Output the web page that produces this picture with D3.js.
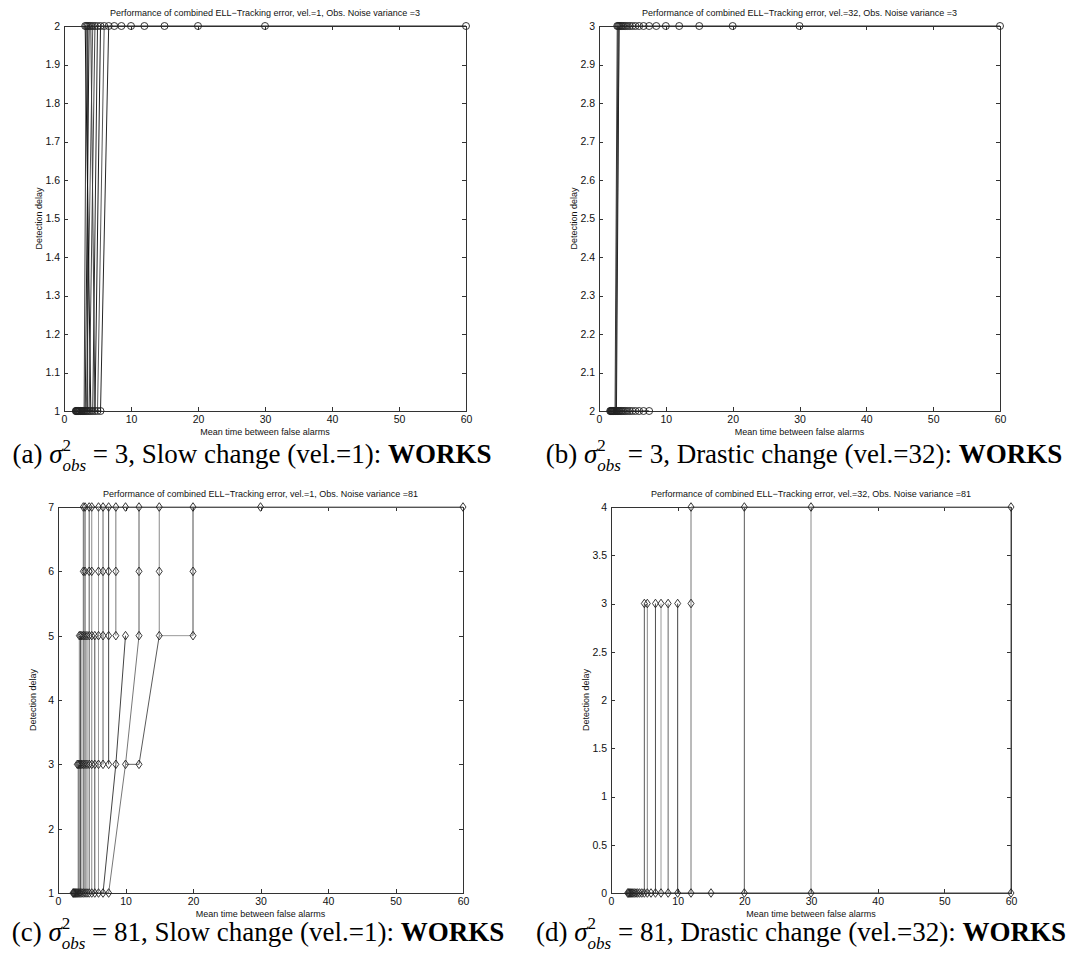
<!DOCTYPE html>
<meta charset="utf-8">
<style>
body { margin: 0; background: #fff; }
svg { display: block; background: #fff; }
.axis path, .axis line { stroke: #333; shape-rendering: crispEdges; }
.axis text { font-family: "Liberation Sans", Arial, sans-serif; font-size: 10.5px; fill: #111; }
.title, .xlabel, .ylabel { font-family: "Liberation Sans", Arial, sans-serif; font-size: 9px; fill: #111; }
.caption { font-family: "Liberation Serif", "Times New Roman", serif; font-size: 27px; fill: #000; }
.line { fill: none; stroke-width: 1px; }
.mark { fill: none; stroke: #222; stroke-width: 0.9px; }
</style>
<svg width="1070" height="965"></svg>
<script src="https://d3js.org/d3.v7.min.js"></script>
<script>
var xTicks = [0, 10, 20, 30, 40, 50, 60];

// (a) vel.=1, noise 3 : delay 1 -> 2
var aYTicks = [1, 1.1, 1.2, 1.3, 1.4, 1.5, 1.6, 1.7, 1.8, 1.9, 2];
var aMarks = [
  [1, [1.76, 1.82, 1.88, 1.94, 2.0, 2.07, 2.14, 2.22, 2.31, 2.4, 2.5, 2.61, 2.73, 2.86, 3.0, 3.16, 3.33, 3.53, 3.75, 4.0, 4.29, 4.62, 5.0, 5.45]],
  [2, [3.16, 3.33, 3.53, 3.75, 4.0, 4.29, 4.62, 5.0, 5.45, 6.0, 6.67, 7.5, 8.57, 10, 12, 15, 20, 30, 60]]
];
var aLines = [
  [[1.76, 1], [5.45, 1]],
  [[3.16, 2], [60, 2]],
  [[3.0, 1], [3.33, 2]],
  [[3.16, 1], [3.75, 2]],
  [[3.33, 1], [4.29, 2]],
  [[3.53, 1], [3.53, 2]],
  [[3.75, 1], [4.62, 2]],
  [[4.0, 1], [3.16, 2]],
  [[4.29, 1], [5.0, 2]],
  [[4.62, 1], [4.0, 2]],
  [[4.62, 1], [5.45, 2]],
  [[5.0, 1], [6.0, 2]],
  [[5.45, 1], [6.67, 2]]
];

// (b) vel.=32, noise 3 : delay 2 -> 3
var bYTicks = [2, 2.1, 2.2, 2.3, 2.4, 2.5, 2.6, 2.7, 2.8, 2.9, 3];
var bMarks = [
  [2, [1.67, 1.76, 1.82, 1.88, 1.94, 2.0, 2.07, 2.14, 2.22, 2.31, 2.4, 2.5, 2.61, 2.73, 2.86, 3.0, 3.16, 3.33, 3.53, 3.75, 4.0, 4.29, 4.62, 5.0, 5.45, 6.0, 6.67, 7.5]],
  [3, [2.73, 2.86, 3.0, 3.16, 3.33, 3.53, 3.75, 4.0, 4.29, 4.62, 5.0, 5.45, 6.0, 6.67, 7.5, 8.57, 10, 12, 15, 20, 30, 60]]
];
var bLines = [
  [[1.67, 2], [7.5, 2]],
  [[2.73, 3], [60, 3]],
  [[2.4, 2], [2.73, 3]],
  [[2.5, 2], [2.86, 3]],
  [[2.5, 2], [3.0, 3]],
  [[2.61, 2], [3.0, 3]]
];

// (c) vel.=1, noise 81
var cYTicks = [1, 2, 3, 4, 5, 6, 7];
var cMarks = [
  [1, [2.22, 2.31, 2.4, 2.5, 2.61, 2.73, 2.86, 3.0, 3.16, 3.33, 3.53, 3.75, 4.0, 4.29, 4.62, 5.0, 5.45, 6.0, 6.67, 7.5]],
  [3, [2.86, 3.0, 3.16, 3.33, 3.53, 3.75, 4.0, 4.29, 4.62, 5.0, 5.45, 6.0, 6.67, 7.5, 8.57, 10, 12]],
  [5, [3.16, 3.33, 3.53, 3.75, 4.0, 4.29, 4.62, 5.0, 5.45, 6.0, 6.67, 7.5, 8.57, 10, 12, 15, 20]],
  [6, [3.75, 4.0, 4.62, 5.0, 6.0, 6.67, 7.5, 8.57, 12, 15, 20]],
  [7, [3.75, 4.0, 4.62, 5.0, 6.0, 6.67, 7.5, 8.57, 10, 12, 15, 20, 30, 60]]
];
var cLines = [
  [[2.22, 1], [7.5, 1]],
  [[3.75, 7], [60, 7]],
  [[3.0, 1], [3.0, 3]],
  [[3.16, 1], [3.16, 5]],
  [[3.33, 1], [3.33, 5]],
  [[3.53, 1], [3.53, 5]],
  [[3.75, 1], [3.75, 7]],
  [[4.0, 1], [4.0, 7]],
  [[4.29, 1], [4.29, 5]],
  [[4.62, 1], [4.62, 7]],
  [[5.0, 1], [5.0, 7]],
  [[5.45, 1], [5.45, 5]],
  [[6.0, 1], [6.0, 7]],
  [[6.67, 3], [6.67, 7]],
  [[7.5, 3], [7.5, 7]],
  [[8.57, 5], [8.57, 7]],
  [[12, 5], [12, 7]],
  [[15, 5], [15, 7]],
  [[20, 5], [20, 7]],
  [[15, 5], [20, 5]],
  [[10, 3], [12, 3]],
  [[10, 5], [8.57, 3], [6.67, 1]],
  [[12, 5], [10, 3], [7.5, 1]],
  [[15, 5], [12, 3]]
];

// (d) vel.=32, noise 81
var dYTicks = [0, 0.5, 1, 1.5, 2, 2.5, 3, 3.5, 4];
var dMarks = [
  [0, [2.5, 2.61, 2.73, 2.86, 3.0, 3.16, 3.33, 3.53, 3.75, 4.0, 4.29, 4.62, 5.0, 5.45, 6.0, 6.67, 7.5, 8.57, 10, 12, 15, 20, 30, 60]],
  [3, [5.0, 5.45, 6.67, 7.5, 8.57, 10, 12]],
  [4, [12, 20, 30, 60]]
];
var dLines = [
  [[2.5, 0], [60, 0]],
  [[12, 4], [60, 4]],
  [[5.0, 0], [5.0, 3]],
  [[5.45, 0], [5.45, 3]],
  [[6.67, 0], [6.67, 3]],
  [[7.5, 0], [7.5, 3]],
  [[8.57, 0], [8.57, 3]],
  [[10, 0], [10, 3]],
  [[12, 0], [12, 4]],
  [[20, 0], [20, 4]],
  [[30, 0], [30, 4]],
  [[60, 0], [60, 4]]
];

var titles = [
  "Performance of combined ELL\u2212Tracking error, vel.=1, Obs. Noise variance =3",
  "Performance of combined ELL\u2212Tracking error, vel.=32, Obs. Noise variance =3",
  "Performance of combined ELL\u2212Tracking error, vel.=1, Obs. Noise variance =81",
  "Performance of combined ELL\u2212Tracking error, vel.=32, Obs. Noise variance =81"
];
var captions = [
  ["a", "3", "Slow change (vel.=1):"],
  ["b", "3", "Drastic change (vel.=32):"],
  ["c", "81", "Slow change (vel.=1):"],
  ["d", "81", "Drastic change (vel.=32):"]
];

var darkGrays = ["#111", "#2b2b2b", "#3c3c3c", "#1c1c1c", "#555", "#262626", "#444"],
    midGrays = ["#444", "#777", "#5a5a5a", "#8a8a8a", "#4f4f4f", "#9a9a9a", "#666"];

var panels = [
  {box: [64, 466, 26, 411], yTicks: aYTicks, marks: aMarks, lines: aLines, marker: "o", grays: darkGrays, cap: [252, 463]},
  {box: [599, 1000, 26, 411], yTicks: bYTicks, marks: bMarks, lines: bLines, marker: "o", grays: darkGrays, cap: [804, 463]},
  {box: [58, 463, 507, 893], yTicks: cYTicks, marks: cMarks, lines: cLines, marker: "d", grays: midGrays, cap: [258, 941]},
  {box: [611, 1011, 507, 893], yTicks: dYTicks, marks: dMarks, lines: dLines, marker: "d", grays: midGrays, cap: [801, 941]}
];

var svg = d3.select("svg");

panels.forEach(function(p, i) {
  var x = d3.scaleLinear().domain([0, 60]).range([p.box[0], p.box[1]]),
      y = d3.scaleLinear().domain(d3.extent(p.yTicks)).range([p.box[3], p.box[2]]),
      g = svg.append("g");

  g.append("g")
      .attr("class", "axis")
      .attr("transform", "translate(0," + p.box[3] + ")")
      .call(d3.axisBottom(x).tickValues(xTicks).tickSizeInner(-4).tickSizeOuter(0).tickPadding(5).tickFormat(d3.format("d")));
  g.append("g")
      .attr("class", "axis")
      .attr("transform", "translate(0," + p.box[2] + ")")
      .call(d3.axisTop(x).tickValues(xTicks).tickSizeInner(-4).tickSizeOuter(0).tickFormat(""));
  g.append("g")
      .attr("class", "axis")
      .attr("transform", "translate(" + p.box[0] + ",0)")
      .call(d3.axisLeft(y).tickValues(p.yTicks).tickSizeInner(-4).tickSizeOuter(0).tickPadding(4).tickFormat(d3.format("~g")));
  g.append("g")
      .attr("class", "axis")
      .attr("transform", "translate(" + p.box[1] + ",0)")
      .call(d3.axisRight(y).tickValues(p.yTicks).tickSizeInner(-4).tickSizeOuter(0).tickFormat(""));

  var line = d3.line()
      .x(function(d) { return x(d[0]); })
      .y(function(d) { return y(d[1]); });

  g.selectAll(".line")
    .data(p.lines)
    .enter().append("path")
      .attr("class", "line")
      .attr("stroke", function(d, j) { return p.grays[j % p.grays.length]; })
      .attr("d", line);

  var pts = [];
  p.marks.forEach(function(m) {
    m[1].forEach(function(v) { pts.push([v, m[0]]); });
  });

  if (p.marker === "o") {
    g.selectAll(".mark")
      .data(pts)
      .enter().append("circle")
        .attr("class", "mark")
        .attr("cx", function(d) { return x(d[0]); })
        .attr("cy", function(d) { return y(d[1]); })
        .attr("r", 3.5);
  } else {
    g.selectAll(".mark")
      .data(pts)
      .enter().append("path")
        .attr("class", "mark")
        .attr("transform", function(d) { return "translate(" + x(d[0]) + "," + y(d[1]) + ")"; })
        .attr("d", "M0,-4.3L3,0L0,4.3L-3,0Z");
  }

  g.append("text")
      .attr("class", "title")
      .attr("x", (p.box[0] + p.box[1]) / 2)
      .attr("y", p.box[2] - 10)
      .attr("text-anchor", "middle")
      .text(titles[i]);
  g.append("text")
      .attr("class", "xlabel")
      .attr("x", (p.box[0] + p.box[1]) / 2)
      .attr("y", p.box[3] + 24)
      .attr("text-anchor", "middle")
      .text("Mean time between false alarms");
  g.append("text")
      .attr("class", "ylabel")
      .attr("transform", "translate(" + (p.box[0] - 22) + "," + ((p.box[2] + p.box[3]) / 2) + ") rotate(-90)")
      .attr("text-anchor", "middle")
      .text("Detection delay");

  // caption: sigma with stacked superscript 2 and subscript obs
  var c = captions[i],
      t = svg.append("text").attr("class", "caption");
  t.append("tspan").text("(" + c[0] + ") ");
  t.append("tspan").style("font-style", "italic").text("\u03c3");
  var sup = t.append("tspan").attr("dy", -12).style("font-size", "17px").text("2");
  var w = sup.node().getComputedTextLength();
  t.append("tspan").attr("dx", -w).attr("dy", 20).style("font-size", "17px").style("font-style", "italic").text("obs");
  t.append("tspan").attr("dy", -8).text(" = " + c[1] + ", " + c[2] + " ");
  t.append("tspan").style("font-weight", "bold").text("WORKS");
  var bb = t.node().getBBox();
  t.attr("transform", "translate(" + (p.cap[0] - bb.x - bb.width / 2) + "," + p.cap[1] + ")");
});
</script>
